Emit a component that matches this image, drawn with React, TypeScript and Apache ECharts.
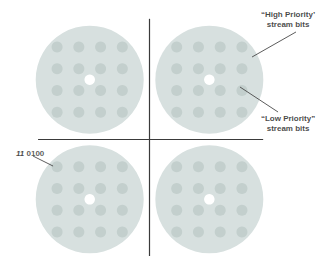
import React, { useEffect, useRef } from "react";
import * as echarts from "echarts";

// Constellation levels (low-priority bits) around each quadrant centre
const levels = [-3, -1, 1, 3];
// Quadrant centres (high-priority bits)
const quadrantCenters: [number, number][] = [
  [-5.5, 5.5],
  [5.5, 5.5],
  [-5.5, -5.5],
  [5.5, -5.5],
];
// Axis cross lines
const axisSegments: [number, number][][] = [
  [[0, 11.1], [0, -10.8]],
  [[-10.25, 0], [10.45, 0]],
];
// Leader lines from annotations to points
const leaderSegments: [number, number][][] = [
  [[13.47, 9.89], [9.43, 7.59]],
  [[8.32, 4.83], [11.82, 2.53]],
  [[-10.71, -1.52], [-8.87, -2.44]],
];
const annotationTexts = ["“High Priority’\nstream bits", "“Low Priority”\nstream bits", "{a|11} {b|0100}"];
const annotationPos: [number, number][] = [
  [12.74, 11.08],
  [12.74, 1.43],
  [-12.28, -1.24],
];
const annotationAlign = ["center", "center", "left"];

export default function App() {
  const ref = useRef<HTMLDivElement>(null);
  useEffect(() => {
    if (!ref.current) return;
    const chart = echarts.init(ref.current, null, { renderer: "svg" });
    const dots: [number, number][] = [];
    quadrantCenters.forEach(([cx, cy]) => {
      levels.forEach((dy) => {
        levels.forEach((dx) => {
          dots.push([cx + dx, cy + dy]);
        });
      });
    });
    const font = "Liberation Sans, Arial, sans-serif";
    chart.setOption({
      animation: false,
      backgroundColor: "#ffffff",
      grid: { left: 0, right: 0, top: 0, bottom: 0 },
      xAxis: { type: "value", min: -13.75, max: 16.23, show: false },
      yAxis: { type: "value", min: -10.71, max: 12.83, show: false },
      series: [
        {
          type: "scatter",
          data: quadrantCenters,
          symbolSize: 108,
          itemStyle: { color: "#d7e0df", opacity: 1 },
          silent: true,
          z: 1,
        },
        {
          type: "scatter",
          data: dots,
          symbolSize: 11,
          itemStyle: { color: "#c3cfcd", opacity: 1 },
          silent: true,
          z: 2,
        },
        {
          type: "scatter",
          data: quadrantCenters,
          symbolSize: 10.5,
          itemStyle: { color: "#ffffff", opacity: 1 },
          silent: true,
          z: 3,
        },
        {
          type: "lines",
          coordinateSystem: "cartesian2d",
          data: axisSegments.map((c) => ({ coords: c })),
          lineStyle: { color: "#3a3a3a", width: 1.2, opacity: 1 },
          silent: true,
          z: 4,
        },
        {
          type: "lines",
          coordinateSystem: "cartesian2d",
          data: leaderSegments.map((c) => ({ coords: c })),
          lineStyle: { color: "#4a4a4a", width: 0.9, opacity: 1 },
          silent: true,
          z: 5,
        },
        {
          type: "scatter",
          data: annotationPos.map((p, i) => ({
            value: p,
            label: {
              show: true,
              position: "inside",
              formatter: annotationTexts[i],
              align: annotationAlign[i],
              verticalAlign: "middle",
            },
          })),
          symbolSize: 1,
          itemStyle: { color: "rgba(255,255,255,0)" },
          label: {
            color: "#151515",
            fontFamily: font,
            fontWeight: "bold",
            fontSize: 8,
            lineHeight: 10,
            rich: {
              a: {
                fontStyle: "italic",
                fontWeight: "bold",
                fontSize: 8,
                color: "#151515",
                fontFamily: font,
              },
              b: {
                fontWeight: "bold",
                fontSize: 8,
                color: "#333333",
                fontFamily: font,
              },
            },
          },
          silent: true,
          z: 6,
        },
      ],
    });
    return () => chart.dispose();
  }, []);
  return (
    <div
      ref={ref}
      style={{ position: "fixed", left: 0, top: 0, width: 326, height: 256, background: "#fff" }}
    />
  );
}
